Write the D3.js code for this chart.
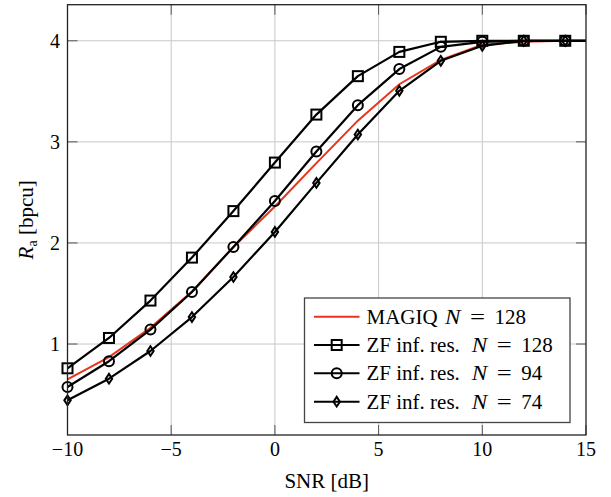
<!DOCTYPE html>
<html><head><meta charset="utf-8">
<script src="https://cdn.jsdelivr.net/npm/d3@7"></script>
<style>body{margin:0;background:#fff}</style>
</head><body><svg id="c" width="611" height="497" font-family="Liberation Serif, DejaVu Serif, serif"></svg>
<script>
const snr = [-10,-8,-6,-4,-2,0,2,4,6,8,10,12,14,15];
const magiq128 = [0.65,0.87,1.16,1.52,1.96,2.36,2.79,3.21,3.57,3.81,3.96,3.99,4.0,4.0];
const zf128 = [0.76,1.06,1.43,1.855,2.315,2.795,3.27,3.65,3.89,3.99,4.0,4.0,4.0,4.0];
const zf94 = [0.575,0.83,1.143,1.515,1.96,2.415,2.905,3.363,3.72,3.94,3.99,4.0,4.0,4.0];
const zf74 = [0.443,0.657,0.931,1.267,1.663,2.109,2.594,3.073,3.505,3.802,3.95,4.0,4.0,4.0];
const xTicks = [-10,-5,0,5,10,15];
const yTicks = [1,2,3,4];
const seriesNames = ["MAGIQ","ZF inf. res.","ZF inf. res.","ZF inf. res."];
const seriesN = ["128","128","94","74"];
const markerTypes = [null,"square","circle","diamond"];
const markerMask = [1,1,1,1,1,1,1,1,1,1,1,1,1,0];

const FF = "Liberation Serif";
const svg = d3.select("#c");
const L=67.5,R=586,T=4.7,B=435;
const x = d3.scaleLinear().domain([-10,15]).range([L,R]);
const y = d3.scaleLinear().domain([0.1,4.357]).range([B,T]);
const grid = svg.append("g");
xTicks.forEach(t=>{ if(t>-10&&t<15) grid.append("line").attr("x1",x(t)).attr("x2",x(t)).attr("y1",T).attr("y2",B).attr("stroke","#c8c8c8").attr("stroke-width",1);});
yTicks.forEach(t=>{ grid.append("line").attr("x1",L).attr("x2",R).attr("y1",y(t)).attr("y2",y(t)).attr("stroke","#c8c8c8").attr("stroke-width",1);});
const tk=svg.append("g").attr("stroke","#555").attr("stroke-width",1);
xTicks.forEach(t=>{tk.append("line").attr("x1",x(t)).attr("x2",x(t)).attr("y1",B).attr("y2",B-10);tk.append("line").attr("x1",x(t)).attr("x2",x(t)).attr("y1",T).attr("y2",T+10);});
yTicks.forEach(t=>{tk.append("line").attr("x1",L).attr("x2",L+10).attr("y1",y(t)).attr("y2",y(t));tk.append("line").attr("x1",R).attr("x2",R-10).attr("y1",y(t)).attr("y2",y(t));});

const fmt = v => v<0 ? "\u2212"+Math.abs(v) : ""+v;
function txt(fs){ return svg.append("text").attr("font-family",FF).attr("font-size",fs); }
xTicks.forEach(t=>txt(20).attr("x",x(t)).attr("y",455.5).attr("text-anchor","middle").text(fmt(t)));
yTicks.forEach(t=>txt(20).attr("x",60).attr("y",y(t)+7).attr("text-anchor","end").text(fmt(t)));
txt(21).attr("x",(L+R)/2).attr("y",487.5).attr("text-anchor","middle").text("SNR [dB]");
const yl = txt(21).attr("transform",`translate(33,${(T+B)/2}) rotate(-90)`).attr("text-anchor","middle");
yl.append("tspan").attr("font-style","italic").text("R");
yl.append("tspan").attr("font-size",14).attr("dy",4).text("a");
yl.append("tspan").attr("dy",-4).text(" [bpcu]");

const plot = svg.append("g");
const line = d3.line().x((d,i)=>x(snr[i])).y(d=>y(d));
function marker(g,type,cx,cy){
  if(type==="square") g.append("rect").attr("x",cx-5).attr("y",cy-5).attr("width",10).attr("height",10).attr("fill","none").attr("stroke","#000").attr("stroke-width",2);
  else if(type==="circle") g.append("circle").attr("cx",cx).attr("cy",cy).attr("r",5).attr("fill","none").attr("stroke","#000").attr("stroke-width",2);
  else if(type==="diamond") g.append("path").attr("d",`M${cx},${cy-4.8}L${cx+3.2},${cy}L${cx},${cy+4.8}L${cx-3.2},${cy}Z`).attr("fill","none").attr("stroke","#000").attr("stroke-width",2);
}
const allSeries=[magiq128,zf128,zf94,zf74];
plot.append("path").datum(magiq128).attr("d",line).attr("fill","none").attr("stroke","#e8341c").attr("stroke-width",2);
[1,2,3].forEach(k=>{
  const g=plot.append("g");
  g.append("path").datum(allSeries[k]).attr("d",line).attr("fill","none").attr("stroke","#000").attr("stroke-width",2.2).attr("stroke-linejoin","round");
  allSeries[k].forEach((v,i)=>{ if(markerMask[i]) marker(g,markerTypes[k],x(snr[i]),y(v)); });
});
svg.append("rect").attr("x",L).attr("y",T).attr("width",R-L).attr("height",B-T).attr("fill","none").attr("stroke","#222").attr("stroke-width",1.3);

const lg=svg.append("g");
lg.append("rect").attr("x",304.5).attr("y",298).attr("width",265.5).attr("height",124.5).attr("fill","#fff").attr("stroke","#444").attr("stroke-width",1.3);
const ly=[316.7,345,373.3,401.7];
const mathX=[445,471.7,471.7,471.7];
[0,1,2,3].forEach(k=>{
  const c = k===0?"#e8341c":"#000";
  lg.append("line").attr("x1",314).attr("x2",359.5).attr("y1",ly[k]).attr("y2",ly[k]).attr("stroke",c).attr("stroke-width",2);
  if(markerTypes[k]) marker(lg,markerTypes[k],336.7,ly[k]);
  const bl=ly[k]+7;
  lg.append("text").attr("font-family",FF).attr("font-size",21).attr("x",366.5).attr("y",bl).text(seriesNames[k]);
  const mx=mathX[k];
  lg.append("text").attr("font-family",FF).attr("font-size",21).attr("font-style","italic").attr("x",mx).attr("y",bl).attr("textLength",15.5).attr("lengthAdjust","spacingAndGlyphs").text("N");
  lg.append("text").attr("font-family",FF).attr("font-size",21).attr("x",mx+25).attr("y",bl).attr("textLength",15).attr("lengthAdjust","spacingAndGlyphs").text("=");
  lg.append("text").attr("font-family",FF).attr("font-size",21).attr("x",mx+49.5).attr("y",bl).text(seriesN[k]);
});
</script></body></html>
